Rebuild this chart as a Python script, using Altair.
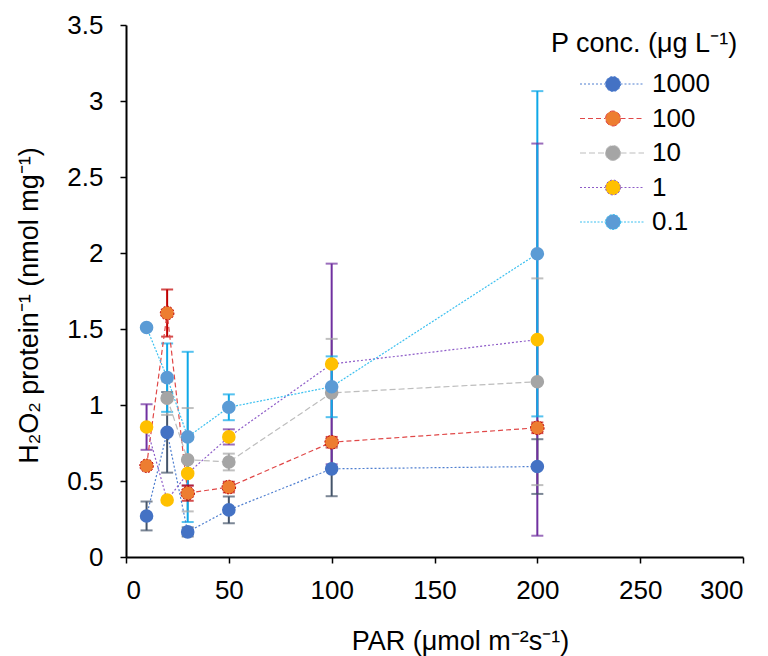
import altair as alt
import pandas as pd
import numpy as np

# ---- data ----
par = [10, 20, 30, 50, 100, 200]
series_order = ["1000", "100", "10", "1", "0.1"]

h2o2 = {
    "1000": [0.27, 0.82, 0.165, 0.31, 0.58, 0.595],
    "100":  [0.60, 1.605, 0.42, 0.46, 0.755, 0.85],
    "10":   [np.nan, 1.045, 0.64, 0.625, 1.08, 1.153],
    "1":    [0.855, 0.375, 0.55, 0.79, 1.27, 1.43],
    "0.1":  [1.51, 1.18, 0.79, 0.985, 1.12, 1.995],
}
sd = {
    "1000": [0.095, 0.265, 0.03, 0.088, 0.18, 0.18],
    "100":  [0.0, 0.155, 0.05, 0.035, 0.035, 0.035],
    "10":   [np.nan, 0.11, 0.34, 0.055, 0.355, 0.68],
    "1":    [0.15, 0.0, 0.08, 0.05, 0.66, 1.29],
    "0.1":  [0.0, 0.225, 0.56, 0.085, 0.2, 1.07],
}

marker_colors = ["#4472C4", "#ED7D31", "#A5A5A5", "#FFC000", "#5B9BD5"]
line_colors = ["#4F7FD0", "#E04848", "#BDBDBD", "#8E5CC8", "#3CC0F0"]
err_colors = ["#44546A", "#C00000", "#A5A5A5", "#7030A0", "#0EA8E8"]
dashes = [[2, 2], [5, 3], [6, 3], [2, 2], [2, 1.5]]

x_ticks = [0, 50, 100, 150, 200, 250, 300]
y_ticks = [0, 0.5, 1, 1.5, 2, 2.5, 3, 3.5]

rows = []
for s in series_order:
    for i, x in enumerate(par):
        rows.append({"PAR": x, "P": s, "H2O2": h2o2[s][i], "sd": sd[s][i]})
df = pd.DataFrame(rows).dropna(subset=["H2O2"]).reset_index(drop=True)
df["lo"] = df["H2O2"] - df["sd"]
df["hi"] = df["H2O2"] + df["sd"]
err = df[df["sd"] > 0].reset_index(drop=True)
caps = pd.concat([
    err[["PAR", "P"]].assign(v=err["lo"]),
    err[["PAR", "P"]].assign(v=err["hi"]),
]).reset_index(drop=True)
df100 = df[df["P"] == "100"].reset_index(drop=True)

FONT = "Liberation Sans"
xs = alt.Scale(domain=[0, 300], nice=False)
ys = alt.Scale(domain=[0, 3.5], nice=False)

X = alt.X(
    "PAR:Q", scale=xs,
    axis=alt.Axis(
        title="PAR (μmol m⁻²s⁻¹)", values=x_ticks, grid=False,
        ticks=True, tickSize=6, tickWidth=1.5, tickColor="black",
        labelPadding=14, labelFontSize=26, labelFont=FONT, labelColor="black",
        titleFont=FONT, titleFontSize=27, titleFontWeight="normal", titleColor="black",
        titleX=334, titleY=92, titleBaseline="alphabetic",
        domainColor="black", domainWidth=2,
    ),
)
Y = alt.Y(
    "H2O2:Q", scale=ys,
    axis=alt.Axis(
        title="H₂O₂ protein⁻¹ (nmol mg⁻¹)", values=y_ticks, format="~g", grid=False,
        ticks=True, tickSize=6, tickWidth=1.5, tickColor="black",
        labelPadding=17, labelFontSize=26, labelFont=FONT, labelColor="black",
        titleFont=FONT, titleFontSize=27, titleFontWeight="normal", titleColor="black",
        titleX=-89, titleY=280, titleBaseline="alphabetic", titleAngle=270,
        domainColor="black", domainWidth=2,
    ),
)

dom = series_order
fill_scale = alt.Scale(domain=dom, range=marker_colors)
stroke_scale = alt.Scale(domain=dom, range=line_colors)
dash_scale = alt.Scale(domain=dom, range=dashes)
# error-bar colours: own scale (listed in reverse so it is not merged with the legend)
err_scale = alt.Scale(domain=dom[::-1], range=err_colors[::-1])

legend_path = (
    "M5.65,0 C5.65,0.414 5.314,0.75 4.9,0.75 C4.486,0.75 4.15,0.414 4.15,0 "
    "C4.15,-0.414 4.486,-0.75 4.9,-0.75 C5.314,-0.75 5.65,-0.414 5.65,0 Z "
    "M1.6,0 L4.15,0 M5.65,0 L8.0,0"
)
leg = alt.Legend(
    title="P conc. (μg L⁻¹)", orient="none", legendX=425, legendY=6,
    symbolType=legend_path, symbolSize=400, symbolStrokeWidth=1,
    labelFont=FONT, labelFontSize=26, labelColor="black", labelOffset=75,
    titleFont=FONT, titleFontSize=27, titleFontWeight="normal", titleColor="black",
    titleLimit=400, labelLimit=200,
    titlePadding=13, rowPadding=8.5, padding=0,
)

rules = alt.Chart(err).mark_rule(strokeWidth=2).encode(
    x=alt.X("PAR:Q", scale=xs), y=alt.Y("lo:Q", scale=ys), y2="hi:Q",
    color=alt.Color("P:N", scale=err_scale, legend=None),
)
cap_marks = alt.Chart(caps).mark_tick(orient="horizontal", size=12, thickness=2).encode(
    x=alt.X("PAR:Q", scale=xs), y=alt.Y("v:Q", scale=ys),
    color=alt.Color("P:N", scale=err_scale, legend=None),
)
lines = alt.Chart(df).mark_line(strokeWidth=1.2).encode(
    x=X, y=Y,
    stroke=alt.Stroke("P:N", scale=stroke_scale, legend=leg),
    strokeDash=alt.StrokeDash("P:N", scale=dash_scale, legend=leg),
    detail="P:N",
)
points = alt.Chart(df).mark_circle(size=185, opacity=1).encode(
    x=alt.X("PAR:Q", scale=xs), y=alt.Y("H2O2:Q", scale=ys),
    fill=alt.Fill("P:N", scale=fill_scale, legend=leg),
)
outline = alt.Chart(df100).mark_point(
    filled=False, size=185, stroke="#C00000", strokeWidth=1, strokeDash=[2, 1.5], opacity=1
).encode(x=alt.X("PAR:Q", scale=xs), y=alt.Y("H2O2:Q", scale=ys))

chart = alt.layer(
    rules, cap_marks, lines, points, outline
).properties(
    width=617, height=532,
    autosize=alt.AutoSizeParams(type="none"),
    padding={"left": 126, "top": 25, "right": 25, "bottom": 99},
    background="white",
).configure_view(stroke=None)

chart.save("out.html", embed_options={"renderer": "svg", "actions": False})
